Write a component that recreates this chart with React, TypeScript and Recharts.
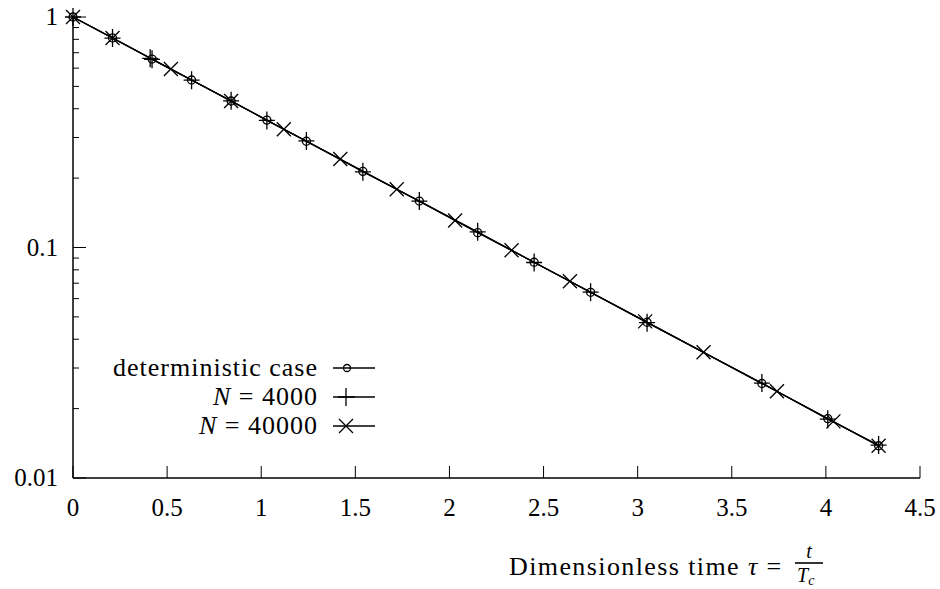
import React from 'react';
import { LineChart, Line, XAxis, YAxis } from 'recharts';

// dimensionless time tau and normalised value
const detTau = [0, 0.21, 0.42, 0.63, 0.84, 1.03, 1.24, 1.54, 1.84, 2.15, 2.45, 2.75, 3.05, 3.66, 4.01, 4.28];
const detVal = [1, 0.811, 0.657, 0.533, 0.432, 0.357, 0.289, 0.214, 0.159, 0.116, 0.0863, 0.0639, 0.0474, 0.0257, 0.0181, 0.0138];

const n4kTau = [0, 0.21, 0.41, 0.42, 0.63, 0.84, 1.03, 1.24, 1.54, 1.84, 2.15, 2.45, 2.75, 3.05, 3.66, 4.01, 4.28];
const n4kVal = [1, 0.81, 0.662, 0.655, 0.532, 0.433, 0.356, 0.29, 0.213, 0.159, 0.117, 0.0861, 0.064, 0.0472, 0.0258, 0.018, 0.0139];

const n40kTau = [0, 0.21, 0.52, 0.84, 1.12, 1.42, 1.72, 2.03, 2.33, 2.64, 3.04, 3.35, 3.74, 4.04, 4.28];
const n40kVal = [1, 0.811, 0.595, 0.432, 0.326, 0.242, 0.179, 0.131, 0.0973, 0.0714, 0.0478, 0.0351, 0.0238, 0.0176, 0.0138];

const xTicks = [0, 0.5, 1, 1.5, 2, 2.5, 3, 3.5, 4, 4.5];
const yMajor = [0.01, 0.1, 1];
const yTicks = [
  0.01, 0.02, 0.03, 0.04, 0.05, 0.06, 0.07, 0.08, 0.09,
  0.1, 0.2, 0.3, 0.4, 0.5, 0.6, 0.7, 0.8, 0.9, 1,
];

const zip = (t: number[], v: number[]) => t.map((tau, i) => ({ tau, val: v[i] }));
const detData = zip(detTau, detVal);
const n4kData = zip(n4kTau, n4kVal);
const n40kData = zip(n40kTau, n40kVal);

const SERIF = { fontFamily: "'Liberation Serif', 'DejaVu Serif', 'Times New Roman', serif" };
const INK = '#000';

const isMajor = (v: number) => yMajor.some((m) => Math.abs(m - v) < 1e-9);

const BottomTick = ({ x, y, payload }: any) => (
  <g>
    <line x1={x} y1={y} x2={x} y2={y - 12} stroke={INK} strokeWidth={1} />
    <text x={x} y={y + 38} textAnchor="middle" style={SERIF} fontSize={25} fill={INK}>
      {String(payload.value)}
    </text>
  </g>
);

const TopTick = ({ x, y }: any) => (
  <line x1={x} y1={y} x2={x} y2={y + 12} stroke={INK} strokeWidth={1} />
);

const LeftTick = ({ x, y, payload }: any) => {
  const major = isMajor(payload.value);
  return (
    <g>
      <line x1={x} y1={y} x2={x + (major ? 13 : 6)} y2={y} stroke={INK} strokeWidth={1} />
      {major && (
        <text x={x - 15} y={y + 8} textAnchor="end" style={SERIF} fontSize={25} fill={INK}>
          {String(payload.value)}
        </text>
      )}
    </g>
  );
};

const RightTick = ({ x, y, payload }: any) => {
  const major = isMajor(payload.value);
  return <line x1={x} y1={y} x2={x - (major ? 13 : 6)} y2={y} stroke={INK} strokeWidth={1} />;
};

const circleDot = (p: any) => (
  <circle key={`c${p.index}`} cx={p.cx} cy={p.cy} r={4} fill="none" stroke={INK} strokeWidth={1.3} />
);
const plusDot = (p: any) => (
  <path
    key={`p${p.index}`}
    d={`M${p.cx - 8},${p.cy}H${p.cx + 8}M${p.cx},${p.cy - 9}V${p.cy + 9}`}
    stroke={INK}
    strokeWidth={1.3}
    fill="none"
  />
);
const crossDot = (p: any) => (
  <path
    key={`x${p.index}`}
    d={`M${p.cx - 7},${p.cy - 7}L${p.cx + 7},${p.cy + 7}M${p.cx - 7},${p.cy + 7}L${p.cx + 7},${p.cy - 7}`}
    stroke={INK}
    strokeWidth={1.3}
    fill="none"
  />
);

function Overlay() {
  return (
    <svg width={940} height={589} style={{ position: 'absolute', left: 0, top: 0, pointerEvents: 'none' }}>
      {/* legend */}
      <g style={SERIF} fontSize={26} fill={INK} letterSpacing={1}>
        <text x={318} y={376} textAnchor="end">deterministic case</text>
        <text x={318} y={405} textAnchor="end">
          <tspan fontStyle="italic">N</tspan> = 4000
        </text>
        <text x={318} y={434} textAnchor="end">
          <tspan fontStyle="italic">N</tspan> = 40000
        </text>
      </g>
      <g stroke={INK} strokeWidth={1.3} fill="none">
        <line x1={333} y1={368} x2={375} y2={368} />
        <circle cx={347} cy={368} r={3.5} />
        <line x1={333} y1={397} x2={375} y2={397} />
        <path d="M338,397H355M346,388V406" />
        <line x1={333} y1={426} x2={375} y2={426} />
        <path d="M339,419L353,433M339,433L353,419" />
      </g>
      {/* x-axis title */}
      <g style={SERIF} fill={INK}>
        <text x={509} y={575} fontSize={26} letterSpacing={1.4}>
          Dimensionless time <tspan fontStyle="italic">τ</tspan> =
        </text>
        <text x={809} y={558} fontSize={20} fontStyle="italic" textAnchor="middle">t</text>
        <line x1={795} y1={563} x2={823} y2={563} stroke={INK} strokeWidth={1.6} />
        <text x={797} y={582} fontSize={20} fontStyle="italic">
          T<tspan fontSize={14} dy={3}>c</tspan>
        </text>
      </g>
    </svg>
  );
}

export default function App() {
  return (
    <div style={{ position: 'absolute', left: 0, top: 0, width: 940, height: 589, background: '#fff' }}>
      <LineChart width={940} height={589} margin={{ top: 17, right: 20, bottom: 71, left: 13 }}>
        <XAxis
          xAxisId="b"
          dataKey="tau"
          type="number"
          domain={[0, 4.5]}
          ticks={xTicks}
          interval={0}
          height={40}
          tickSize={0}
          tickMargin={0}
          tickLine={false}
          axisLine={{ stroke: INK, strokeWidth: 1.5 }}
          tick={<BottomTick />}
        />
        <XAxis
          xAxisId="t"
          orientation="top"
          dataKey="tau"
          type="number"
          domain={[0, 4.5]}
          ticks={xTicks}
          interval={0}
          height={0}
          tickSize={0}
          tickMargin={0}
          tickLine={false}
          axisLine={{ stroke: INK, strokeWidth: 1.5 }}
          tick={<TopTick />}
        />
        <YAxis
          yAxisId="l"
          scale="log"
          type="number"
          domain={[0.01, 1]}
          ticks={yTicks}
          interval={0}
          width={60}
          tickSize={0}
          tickMargin={0}
          tickLine={false}
          axisLine={{ stroke: INK, strokeWidth: 1.5 }}
          tick={<LeftTick />}
        />
        <YAxis
          yAxisId="r"
          orientation="right"
          scale="log"
          type="number"
          domain={[0.01, 1]}
          ticks={yTicks}
          interval={0}
          width={0}
          tickSize={0}
          tickMargin={0}
          tickLine={false}
          axisLine={{ stroke: INK, strokeWidth: 1.5 }}
          tick={<RightTick />}
        />
        <Line
          xAxisId="b"
          yAxisId="l"
          data={detData}
          dataKey="val"
          stroke={INK}
          strokeWidth={1.4}
          dot={circleDot}
          activeDot={false}
          isAnimationActive={false}
        />
        <Line
          xAxisId="b"
          yAxisId="l"
          data={n4kData}
          dataKey="val"
          stroke={INK}
          strokeWidth={1.2}
          dot={plusDot}
          activeDot={false}
          isAnimationActive={false}
        />
        <Line
          xAxisId="b"
          yAxisId="l"
          data={n40kData}
          dataKey="val"
          stroke={INK}
          strokeWidth={1.2}
          dot={crossDot}
          activeDot={false}
          isAnimationActive={false}
        />
      </LineChart>
      <Overlay />
    </div>
  );
}
